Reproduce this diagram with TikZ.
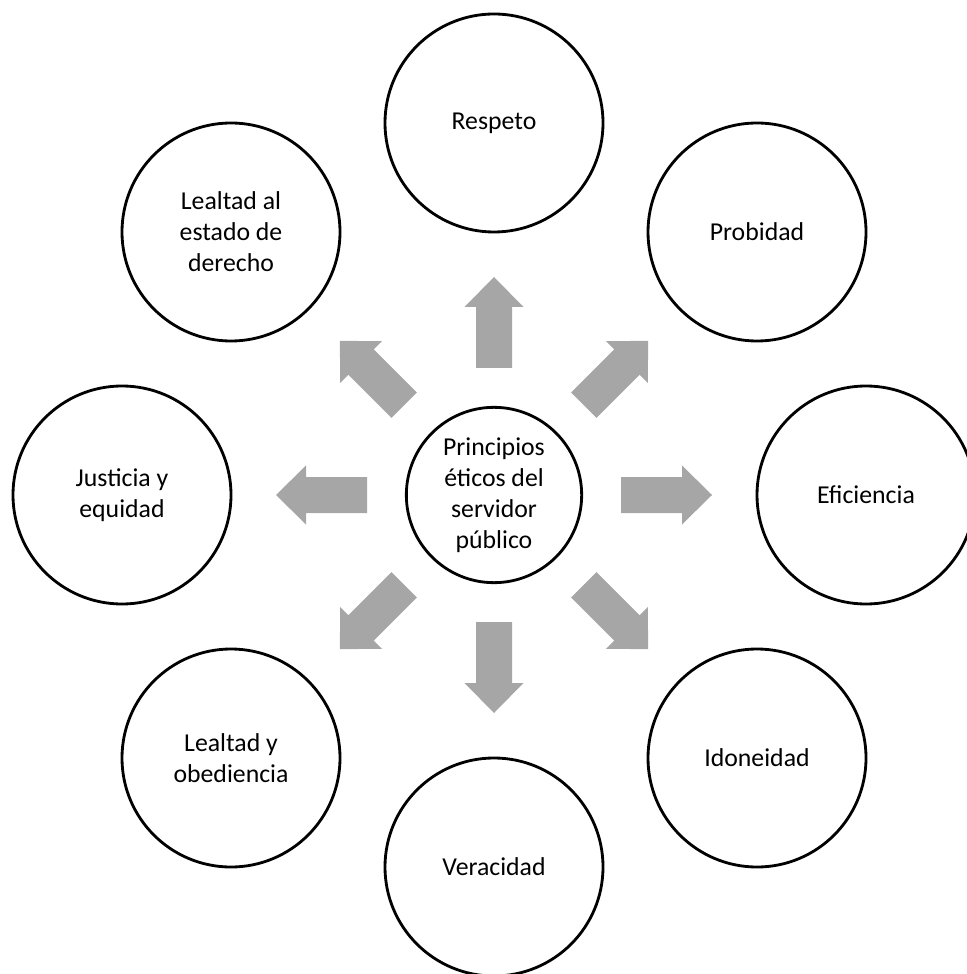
\documentclass[tikz,border=0pt]{standalone}
\usepackage{fontspec}
\setmainfont{Carlito}
\usetikzlibrary{calc}
\definecolor{arrowgray}{RGB}{166,166,166}

\begin{document}
\begin{tikzpicture}[x=0.015cm, y=-0.015cm,
    principle/.style={circle, draw=black, line width=1.2pt, minimum size=3.27cm,
      inner sep=0pt, align=center, font=\fontsize{11}{13.2}\selectfont},
    hub/.style={principle, minimum size=2.63cm},
    blockarrow/.style={fill=arrowgray}]
    \useasboundingbox (0,0) rectangle (966,974);

    % Centre
    \coordinate (c) at (494,495);
    \node[hub] (hub) at (c) {Principios\\éticos del\\servidor\\público};

    % Block arrows round the centre
    \foreach \ang in {0,45,...,315}
      \fill[blockarrow, shift={(c)}, rotate=\ang] (127,-18) -- (188,-18) -- (188,-29.5)
        -- (218,0) -- (188,29.5) -- (188,18) -- (127,18) -- cycle;

    % Principles
    \node[principle] (respeto) at (494,123) {Respeto};
    \node[principle] (probidad) at (757,232) {Probidad};
    \node[principle] (eficiencia) at (866,495) {Eficiencia};
    \node[principle] (idoneidad) at (757,758) {Idoneidad};
    \node[principle] (veracidad) at (494,867) {Veracidad};
    \node[principle] (obediencia) at (231,758) {Lealtad y\\obediencia};
    \node[principle] (justicia) at (122,495) {Justicia y\\equidad};
    \node[principle] (derecho) at (231,232) {Lealtad al\\estado de\\derecho};
\end{tikzpicture}
\end{document}
